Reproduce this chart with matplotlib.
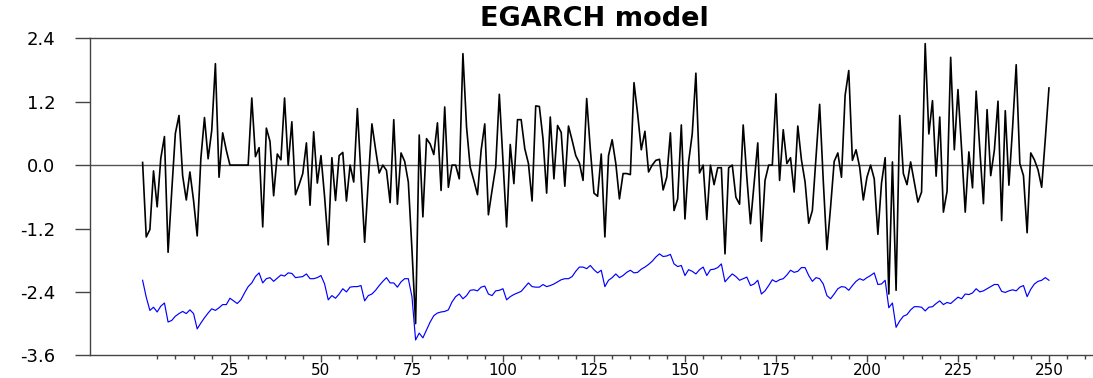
import numpy as np
import matplotlib
matplotlib.use("Agg")
import matplotlib.pyplot as plt
from matplotlib.ticker import FixedLocator

title = "EGARCH model"
obs = np.arange(1, 251)

returns = [
    0.05, -1.36, -1.22, -0.11, -0.79, 0.13, 0.54, -1.65, -0.5, 0.6,
    0.94, -0.2, -0.66, -0.13, -0.67, -1.34, 0.12, 0.9, 0.12, 0.66,
    1.92, -0.23, 0.61, 0.28, 0.0, 0.0, 0.0, 0.0, 0.0, 0.0,
    1.27, 0.16, 0.33, -1.17, 0.7, 0.45, -0.58, 0.21, 0.1, 1.27,
    0.0, 0.82, -0.56, -0.37, -0.16, 0.42, -0.76, 0.63, -0.34, 0.18,
    -0.6, -1.51, 0.14, -0.67, 0.18, 0.24, -0.68, 0.0, -0.32, 1.07,
    -0.2, -1.46, -0.3, 0.78, 0.3, -0.15, 0.0, -0.1, -0.71, 0.86,
    -0.74, 0.23, 0.07, -0.32, -1.6, -3.0, 0.57, -0.98, 0.5, 0.4,
    0.2, 0.8, -0.48, 1.1, -0.42, 0.0, 0.0, -0.26, 2.11, 0.72,
    -0.04, -0.29, -0.56, 0.28, 0.78, -0.94, -0.48, -0.04, 1.34, 0.1,
    -1.17, 0.39, -0.35, 0.86, 0.86, 0.31, 0.03, -0.68, 1.12, 1.11,
    0.5, -0.53, 0.91, -0.26, 0.75, 0.62, -0.4, 0.74, 0.47, 0.18,
    0.04, -0.29, 1.26, 0.3, -0.53, -0.59, 0.21, -1.36, 0.18, 0.48,
    0.03, -0.64, -0.16, -0.16, -0.18, 1.56, 0.97, 0.29, 0.64, -0.13,
    0.0, 0.09, 0.11, -0.47, -0.23, 0.61, -0.86, -0.64, 0.76, -1.02,
    0.06, 0.59, 1.74, -0.15, 0.0, -1.03, 0.0, -0.37, -0.05, -0.05,
    -1.68, -0.05, 0.0, -0.61, -0.74, 0.76, -0.23, -1.11, -0.35, 0.42,
    -1.44, -0.29, 0.0, 0.0, 1.35, -0.29, 0.67, 0.03, 0.14, -0.51,
    0.74, 0.1, -0.32, -1.1, -0.86, 0.15, 1.15, -0.3, -1.6, -0.8,
    0.07, 0.23, -0.23, 1.32, 1.79, 0.09, 0.29, -0.04, -0.66, -0.23,
    0.0, -0.26, -1.31, -0.34, 0.14, -2.44, 0.06, -2.37, 0.94, -0.16,
    -0.37, 0.06, -0.32, -0.7, -0.51, 2.3, 0.59, 1.22, -0.21, 0.91,
    -0.89, -0.5, 2.04, 0.29, 1.43, 0.3, -0.89, 0.25, -0.43, 1.4,
    0.3, -0.73, 1.05, -0.2, 0.28, 1.21, -1.05, 1.03, -0.38, 0.7,
    1.9, 0.03, -0.2, -1.28, 0.23, 0.1, -0.09, -0.42, 0.5, 1.46,
]

log_var = [
    -2.18, -2.5, -2.75, -2.69, -2.78, -2.67, -2.61, -2.97, -2.94, -2.86,
    -2.81, -2.77, -2.81, -2.74, -2.81, -3.1, -2.99, -2.89, -2.8, -2.72,
    -2.75, -2.7, -2.64, -2.64, -2.52, -2.57, -2.62, -2.55, -2.42, -2.3,
    -2.23, -2.11, -2.04, -2.23, -2.15, -2.13, -2.2, -2.14, -2.08, -2.1,
    -2.04, -2.05, -2.13, -2.12, -2.11, -2.06, -2.15, -2.15, -2.13, -2.09,
    -2.25, -2.55, -2.47, -2.52, -2.44, -2.34, -2.4, -2.31, -2.3, -2.3,
    -2.28, -2.57, -2.47, -2.44, -2.37, -2.28, -2.2, -2.13, -2.23, -2.23,
    -2.31, -2.21, -2.15, -2.15, -2.49, -3.31, -3.18, -3.27, -3.12, -2.97,
    -2.85, -2.8, -2.78, -2.77, -2.74, -2.59, -2.49, -2.44, -2.53, -2.47,
    -2.37, -2.36, -2.38, -2.31, -2.29, -2.44, -2.47, -2.38, -2.37, -2.34,
    -2.55, -2.49, -2.45, -2.42, -2.39, -2.31, -2.23, -2.3, -2.31, -2.31,
    -2.26, -2.3, -2.28, -2.25, -2.21, -2.17, -2.15, -2.15, -2.11, -2.01,
    -1.93, -1.93, -1.96, -1.9, -1.98, -2.04, -1.99, -2.3, -2.18, -2.13,
    -2.06, -2.13, -2.09, -2.03, -1.99, -2.04, -2.03, -1.97, -1.93, -1.88,
    -1.82, -1.74, -1.68, -1.73, -1.72, -1.69, -1.87, -1.92, -1.9, -2.09,
    -1.98, -2.01, -2.06, -1.98, -1.93, -2.09, -1.98, -1.97, -1.94, -1.87,
    -2.21, -2.13, -2.06, -2.11, -2.18, -2.15, -2.12, -2.28, -2.25, -2.18,
    -2.44, -2.38, -2.28, -2.17, -2.21, -2.17, -2.15, -2.08, -1.99, -2.03,
    -2.01, -1.94, -1.94, -2.09, -2.2, -2.13, -2.15, -2.25, -2.47, -2.53,
    -2.44, -2.34, -2.3, -2.31, -2.37, -2.28, -2.2, -2.15, -2.18, -2.13,
    -2.09, -2.04, -2.26, -2.25, -2.18, -2.7, -2.61, -3.07, -2.95, -2.86,
    -2.83, -2.74, -2.68, -2.68, -2.69, -2.76, -2.69, -2.68, -2.62, -2.57,
    -2.64, -2.6, -2.62, -2.56, -2.5, -2.53, -2.44, -2.45, -2.42, -2.34,
    -2.4, -2.38, -2.34, -2.3, -2.26, -2.26, -2.39, -2.41, -2.38, -2.36,
    -2.38, -2.31, -2.28, -2.49, -2.35, -2.25, -2.2, -2.18, -2.13, -2.18,
]

y_ticks = [-3.6, -2.4, -1.2, 0.0, 1.2, 2.4]
x_ticks = [25, 50, 75, 100, 125, 150, 175, 200, 225, 250]
x_minor = [5, 10, 15, 20, 30, 35, 40, 45, 55, 60, 65, 70, 80, 85, 90, 95,
           105, 110, 115, 120, 130, 135, 140, 145, 155, 160, 165, 170,
           180, 185, 190, 195, 205, 210, 215, 220, 230, 235, 240, 245,
           255, 260]

W, H = 1093, 378
fig = plt.figure(figsize=(W / 100, H / 100), dpi=100)
left, right = 90 / W, 1.0
bottom, top = 1 - 355.3 / H, 1 - 38.3 / H
ax = fig.add_axes([left, bottom, right - left, top - bottom])

ax.plot(obs, returns, color="black", lw=1.2, zorder=3)
ax.plot(obs, log_var, color="#0000ff", lw=0.85, zorder=3)
ax.axhline(0, color="#555555", lw=1.0, zorder=2)

ax.set_xlim(-13.45, 262.1)
ax.set_ylim(-3.6, 2.4)

ax.set_yticks(y_ticks)
ax.set_yticklabels([f"{v:.1f}" for v in y_ticks])
ax.set_xticks(x_ticks)
ax.set_xticklabels([str(v) for v in x_ticks])
ax.xaxis.set_minor_locator(FixedLocator(x_minor))

for s in ["left", "top", "bottom"]:
    ax.spines[s].set_color("#444444")
    ax.spines[s].set_linewidth(1.0)
ax.spines["right"].set_visible(False)

ax.tick_params(axis="y", direction="out", length=11, width=1.0, color="#444444",
               pad=14, labelsize=13, labelcolor="black")
ax.tick_params(axis="x", which="major", direction="out", length=5, width=1.0,
               color="#444444", pad=0.5, labelsize=11)
ax.tick_params(axis="x", which="minor", direction="out", length=3, width=1.0,
               color="#444444")

fig.text(594 / W, 1 - 19 / H, title, ha="center", va="center",
         fontsize=19.5, fontweight="bold", family="DejaVu Sans")

fig.savefig("out.png", dpi=100)
